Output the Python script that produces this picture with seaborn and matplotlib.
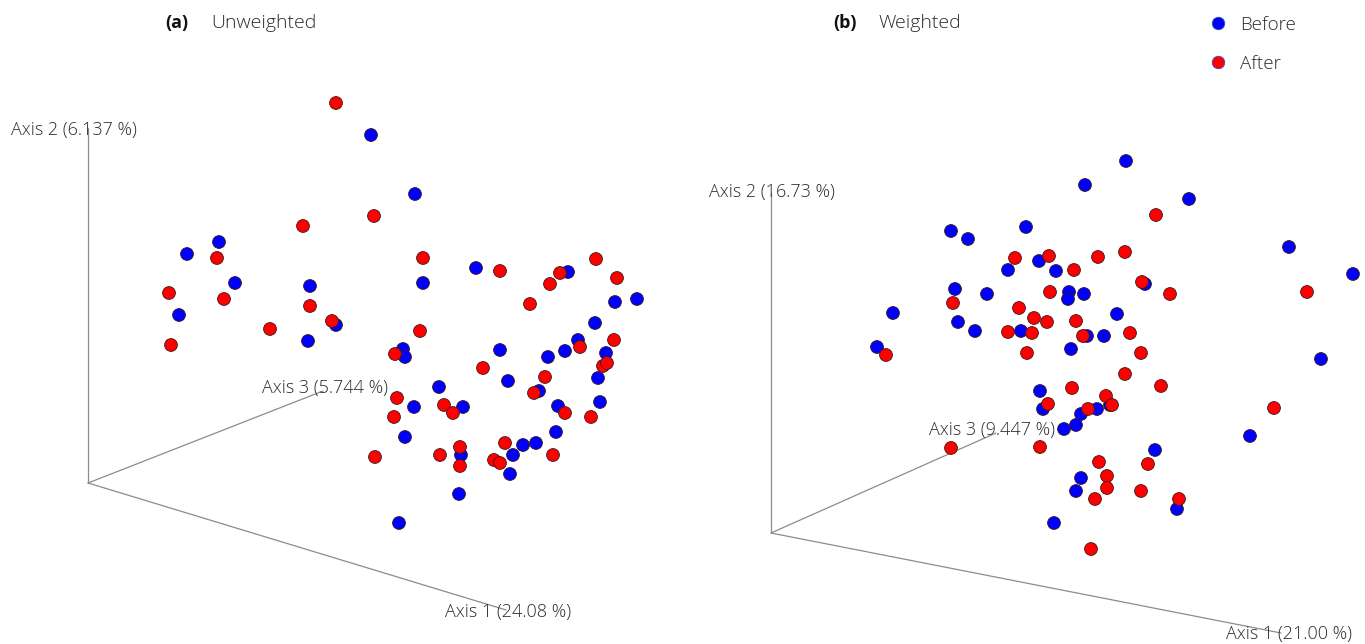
import pandas as pd
import matplotlib
matplotlib.use('Agg')
import matplotlib.pyplot as plt
import seaborn as sns
from matplotlib.lines import Line2D

# Projected PCoA scores (screen units, relative to the drawn 3D origin)
a_before_x = [283, 327, 131, 99, 147, 222, 335, 91, 248, 220, 315, 317, 388, 480, 549, 527, 507, 490, 518, 477,
              460, 412, 420, 510, 351, 326, 375, 317, 373, 425, 435, 448, 422, 371, 311, 451, 470, 468, 512]
a_before_y = [348, 289, 241, 229, 200, 197, 200, 168, 158, 142, 134, 126, 215, 211, 184, 181, 160, 143, 130, 132,
              126, 133, 102, 105, 96, 76, 76, 46, 28, 28, 38, 40, 9, -11, -40, 92, 77, 51, 81]
a_after_x = [248, 286, 215, 335, 129, 81, 136, 222, 244, 182, 332, 83, 307, 412, 472, 462, 508, 529, 442, 526,
             492, 515, 519, 395, 457, 309, 306, 356, 365, 372, 352, 372, 287, 406, 412, 417, 446, 477, 503, 465]
a_after_y = [380, 267, 257, 225, 225, 190, 184, 177, 162, 154, 152, 138, 129, 212, 210, 199, 224, 205, 179, 143,
             136, 117, 120, 115, 106, 85, 66, 78, 70, 36, 28, 17, 26, 23, 20, 40, 90, 70, 66, 28]

b_before_x = [355, 314, 418, 255, 180, 197, 518, 582, 268, 237, 285, 184, 216, 298, 297, 313, 374, 122, 187, 204,
              250, 346, 316, 333, 300, 106, 550, 269, 272, 310, 326, 339, 305, 293, 479, 384, 310, 305, 406, 283]
b_before_y = [372, 348, 334, 306, 302, 294, 286, 259, 272, 263, 262, 244, 239, 241, 234, 239, 249, 220, 211, 202,
              202, 219, 197, 197, 184, 186, 174, 142, 124, 119, 124, 128, 108, 104, 97, 83, 55, 42, 24, 10]
b_after_x = [385, 244, 278, 327, 354, 303, 371, 399, 279, 536, 182, 248, 263, 276, 305, 237, 261, 312, 359, 115,
             256, 370, 354, 301, 390, 335, 341, 277, 317, 503, 180, 269, 328, 377, 336, 336, 370, 324, 408, 320]
b_after_y = [318, 275, 277, 276, 281, 263, 251, 239, 241, 241, 230, 225, 215, 211, 212, 201, 200, 197, 200, 178,
             180, 180, 159, 145, 147, 137, 128, 129, 124, 125, 85, 86, 71, 69, 57, 45, 42, 34, 34, -16]

# Axis arrows of the 3D frame: (end x, end y) and label text
a_axes = {'Axis 1 (24.08 %)': (418, -127), 'Axis 2 (6.137 %)': (0, 355), 'Axis 3 (5.744 %)': (235, 92)}
a_label_pos = {'Axis 1 (24.08 %)': (420, -129), 'Axis 2 (6.137 %)': (-14, 353), 'Axis 3 (5.744 %)': (237, 95)}
b_axes = {'Axis 1 (21.00 %)': (510, -100), 'Axis 2 (16.73 %)': (0, 340), 'Axis 3 (9.447 %)': (225, 100)}
b_label_pos = {'Axis 1 (21.00 %)': (518, -101), 'Axis 2 (16.73 %)': (1, 341), 'Axis 3 (9.447 %)': (221, 103)}

groups = ['Before', 'After']
colors = {'Before': '#0000ff', 'After': '#ff0000'}

sns.set_style("white")
plt.rcParams['font.family'] = ['Open Sans', 'DejaVu Sans']
text_color = '#2b2b2b'


def make_df(bx, by, ax_, ay):
    df_b = pd.DataFrame({'x': bx, 'y': by, 'group': 'Before'})
    df_a = pd.DataFrame({'x': ax_, 'y': ay, 'group': 'After'})
    return pd.concat([df_b, df_a], ignore_index=True)


def draw_panel(ax, df, axes, label_pos):
    for name, (ex, ey) in axes.items():
        ax.plot([0, ex], [0, ey], color='#8c8c8c', linewidth=0.9, zorder=1)
    for name, (lx, ly) in label_pos.items():
        ax.text(lx, ly, name, ha='center', va='center', fontsize=13, color=text_color,
                fontweight='light', zorder=3)
    sns.scatterplot(data=df, x='x', y='y', hue='group', palette=colors, s=85,
                    edgecolor='#3a1a1a', linewidth=0.6, legend=False, ax=ax, zorder=2)
    ax.set_axis_off()


fig = plt.figure(figsize=(13.65, 6.44), dpi=100)

ax_a = fig.add_axes([0, 0, 0.5, 1])
draw_panel(ax_a, make_df(a_before_x, a_before_y, a_after_x, a_after_y), a_axes, a_label_pos)
ax_a.set_xlim(-88, 594.5)
ax_a.set_ylim(-161, 483)

ax_b = fig.add_axes([0.5, 0, 0.5, 1])
draw_panel(ax_b, make_df(b_before_x, b_before_y, b_after_x, b_after_y), b_axes, b_label_pos)
ax_b.set_xlim(-88.5, 594)
ax_b.set_ylim(-111, 533)

W, H = 1365, 644
fig.text(165 / W, 1 - 23 / H, '(a)', fontsize=13, fontweight='bold', color='#111111', va='center')
fig.text(211 / W, 1 - 23 / H, 'Unweighted', fontsize=14, fontweight='light', color=text_color, va='center')
fig.text(833 / W, 1 - 23 / H, '(b)', fontsize=13, fontweight='bold', color='#111111', va='center')
fig.text(879 / W, 1 - 23 / H, 'Weighted', fontsize=14, fontweight='light', color=text_color, va='center')

handles = [Line2D([], [], marker='o', linestyle='', markersize=9, markerfacecolor=colors[g],
                  markeredgecolor='#3355aa', markeredgewidth=0.6) for g in groups]
leg = fig.legend(handles, groups, loc='upper left', bbox_to_anchor=(1201 / W, 1 - 8 / H),
                 frameon=False, fontsize=13.5, labelspacing=1.13, handletextpad=0.68,
                 handlelength=1.0, borderaxespad=0)
for t in leg.get_texts():
    t.set_color(text_color)
    t.set_fontweight('light')

fig.savefig('out.png', dpi=100)
